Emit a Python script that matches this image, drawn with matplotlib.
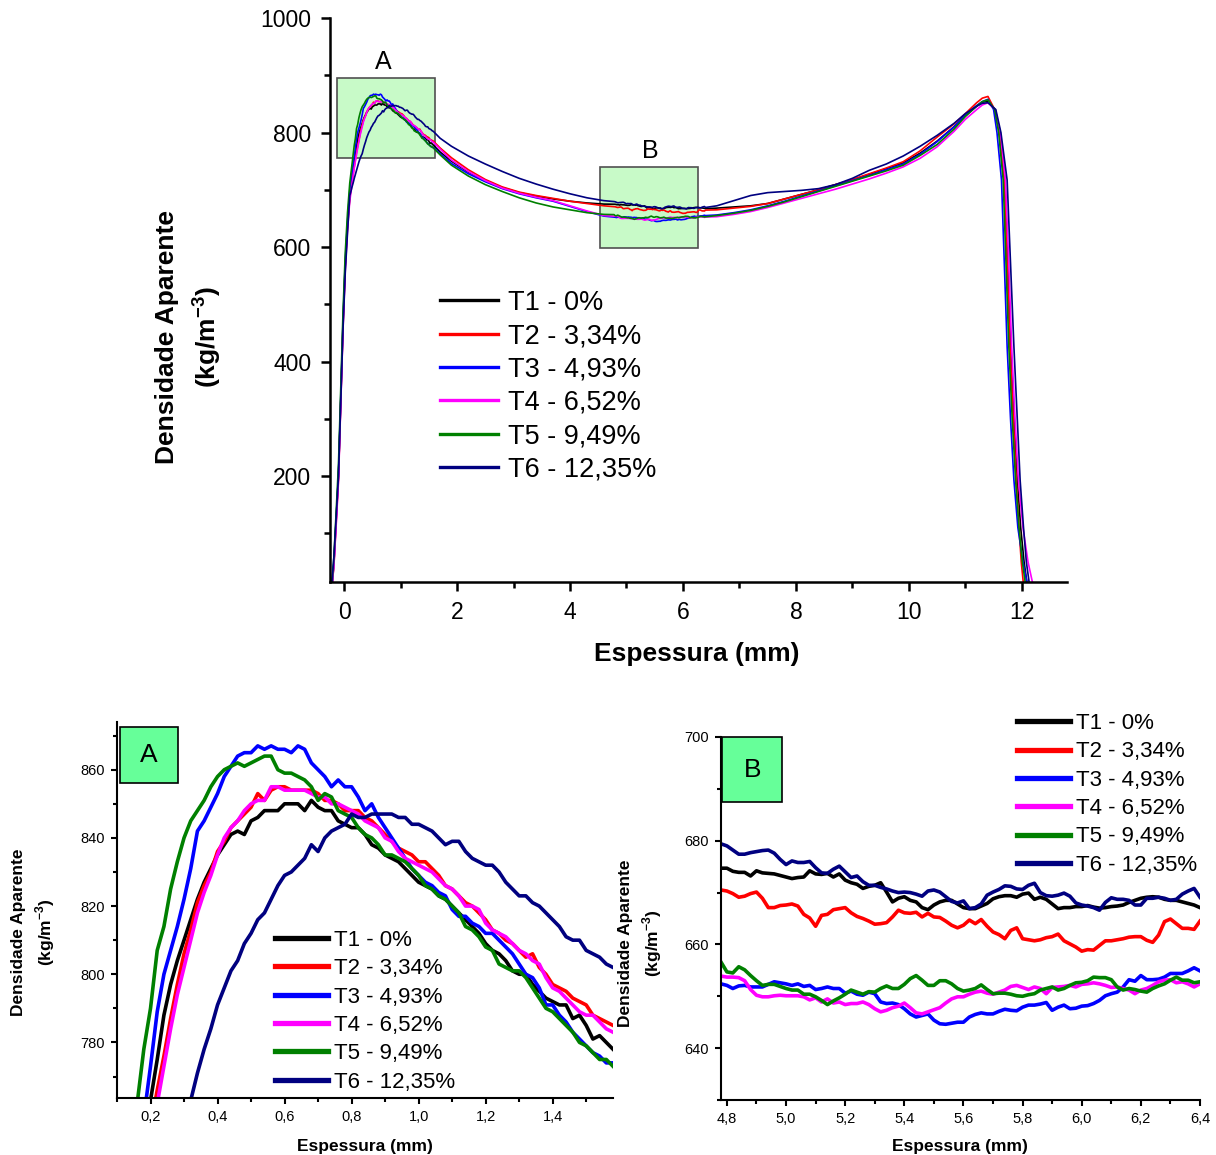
import matplotlib
matplotlib.use("Agg")
import matplotlib.pyplot as plt
from matplotlib.patches import Rectangle
from matplotlib.ticker import MultipleLocator, FuncFormatter
import numpy as np

plt.rcParams['font.family'] = ['Liberation Sans', 'DejaVu Sans']
plt.rcParams['mathtext.fontset'] = 'custom'
plt.rcParams['mathtext.rm'] = 'Liberation Sans'
plt.rcParams['mathtext.bf'] = 'Liberation Sans:bold'

labels = ['T1 - 0%', 'T2 - 3,34%', 'T3 - 4,93%', 'T4 - 6,52%', 'T5 - 9,49%', 'T6 - 12,35%']
colors = ['#000000', '#ff0000', '#0000ff', '#ff00ff', '#008000', '#000080']

# ---- detail A: 0.10 .. 1.58 mm, step 0.02
xa = np.round(np.arange(0.10, 1.5801, 0.02), 2)
a_t1 = [690, 705, 720, 735, 750, 763, 775, 788, 797, 804, 810, 816, 822, 827, 831, 835, 838, 841,
        842, 841, 845, 846, 848, 848, 848, 850, 850, 850, 848, 851, 849, 848, 848, 845, 844, 843,
        843, 841, 838, 837, 835, 834, 833, 831, 829, 827, 826, 825, 823, 822, 820, 818, 816, 814,
        812, 809, 807, 806, 804, 801, 800, 800, 797, 795, 793, 792, 791, 791, 787, 788, 785, 781,
        782, 780, 778]
a_t2 = [685, 700, 715, 728, 742, 755, 766, 776, 787, 797, 806, 813, 821, 826, 830, 836, 839, 843,
        845, 847, 849, 853, 851, 854, 855, 855, 854, 854, 854, 854, 853, 851, 851, 850, 848, 848,
        848, 846, 845, 843, 841, 839, 837, 836, 835, 833, 833, 831, 829, 826, 825, 823, 821, 820,
        818, 816, 813, 812, 810, 809, 807, 805, 806, 802, 800, 797, 796, 795, 793, 792, 791, 788,
        787, 786, 785]
a_t3 = [700, 715, 730, 745, 758, 773, 789, 800, 807, 814, 822, 831, 842, 845, 849, 853, 858, 861,
        864, 865, 865, 867, 866, 867, 866, 866, 865, 867, 866, 862, 860, 858, 855, 857, 855, 855,
        852, 848, 850, 846, 843, 840, 837, 834, 831, 829, 827, 826, 824, 823, 819, 817, 817, 815,
        814, 812, 812, 810, 808, 806, 803, 800, 799, 796, 791, 791, 788, 786, 783, 781, 779, 777,
        776, 774, 774]
a_t4 = [680, 695, 710, 724, 738, 750, 762, 773, 784, 794, 802, 810, 818, 824, 829, 835, 840, 843,
        845, 848, 850, 851, 851, 855, 855, 854, 854, 854, 854, 853, 852, 852, 850, 850, 849, 848,
        847, 845, 844, 843, 840, 839, 836, 834, 833, 832, 831, 830, 828, 826, 825, 823, 820, 820,
        819, 815, 813, 812, 811, 809, 807, 806, 804, 803, 799, 796, 795, 793, 791, 789, 788, 788,
        786, 784, 783]
a_t5 = [712, 728, 745, 762, 778, 790, 807, 814, 825, 833, 840, 845, 848, 851, 855, 858, 860, 861,
        862, 861, 862, 863, 864, 864, 860, 859, 859, 858, 857, 855, 851, 853, 852, 848, 847, 846,
        843, 841, 840, 838, 835, 835, 834, 833, 831, 829, 826, 825, 823, 822, 820, 818, 814, 813,
        811, 808, 807, 803, 802, 801, 801, 799, 796, 793, 790, 789, 787, 785, 783, 780, 779, 777,
        775, 775, 773]
a_t6 = [690, 697, 705, 712, 720, 727, 734, 741, 748, 754, 759, 763, 771, 778, 784, 791, 796, 801,
        804, 809, 812, 816, 818, 822, 826, 829, 830, 832, 834, 838, 836, 840, 842, 843, 844, 847,
        846, 846, 847, 847, 847, 847, 846, 846, 844, 844, 843, 842, 840, 838, 839, 839, 836, 834,
        833, 832, 832, 830, 827, 825, 823, 823, 821, 820, 818, 816, 814, 811, 810, 810, 807, 806,
        805, 803, 802]

# ---- detail B: 4.78 .. 6.40 mm, step 0.02
xb = np.round(np.arange(4.78, 6.4001, 0.02), 2)
b_t1 = [674.7, 674.7, 674.1, 673.9, 673.9, 673.2, 674.2, 673.8, 673.7, 673.6, 673.3, 673.0, 672.7, 672.9,
        673.0, 674.2, 673.6, 673.5, 673.7, 673.0, 673.6, 672.4, 671.9, 671.6, 670.8, 671.2, 671.4, 671.9,
        670.1, 668.2, 668.9, 669.2, 668.5, 668.2, 667.1, 666.7, 667.6, 668.2, 668.5, 668.5, 667.8, 667.1,
        666.9, 666.9, 667.4, 667.9, 668.8, 669.2, 669.4, 669.4, 669.1, 669.7, 669.9, 668.7, 669.1, 668.7,
        667.8, 666.9, 667.1, 667.1, 667.3, 667.3, 667.5, 667.2, 667.0, 667.1, 667.3, 667.4, 667.6, 668.1,
        668.5, 668.9, 669.1, 669.2, 669.1, 668.7, 668.5, 668.5, 668.2, 667.9, 667.6, 667.1]
b_t2 = [670.5, 670.3, 669.8, 669.1, 669.3, 669.8, 670.1, 668.9, 667.1, 667.1, 667.5, 667.6, 667.8, 667.4,
        665.8, 665.1, 663.5, 665.6, 665.8, 666.7, 666.9, 667.1, 666.1, 665.4, 665.0, 664.5, 663.9, 664.0,
        664.2, 665.3, 666.6, 666.1, 666.0, 666.2, 665.3, 666.0, 665.3, 665.2, 664.5, 663.7, 663.2, 663.7,
        664.7, 664.0, 664.8, 663.5, 662.4, 661.9, 661.1, 662.7, 663.2, 661.1, 660.9, 660.7, 660.9, 661.3,
        661.5, 662.0, 660.7, 660.1, 659.5, 658.7, 659.0, 658.9, 659.8, 660.7, 660.7, 660.9, 661.1, 661.4,
        661.5, 661.5, 660.8, 660.4, 661.8, 664.4, 664.9, 664.0, 663.1, 663.1, 662.9, 664.5]
b_t3 = [652.4, 652.1, 651.5, 652.0, 652.1, 651.8, 651.8, 651.8, 652.3, 652.8, 652.6, 652.4, 652.1, 652.4,
        651.9, 652.1, 651.3, 651.5, 651.8, 651.5, 651.5, 650.6, 651.0, 650.4, 650.2, 650.8, 650.5, 648.9,
        648.6, 648.7, 648.4, 647.6, 646.6, 646.0, 646.3, 646.6, 645.4, 644.7, 644.6, 644.8, 645.0, 645.0,
        646.0, 646.5, 646.8, 646.6, 646.6, 647.1, 647.5, 647.3, 647.2, 647.9, 648.3, 648.3, 648.5, 648.8,
        647.3, 647.9, 648.3, 647.6, 647.7, 648.1, 648.2, 648.6, 649.2, 650.1, 650.5, 650.8, 651.8, 653.2,
        652.9, 654.0, 653.2, 653.2, 653.3, 653.7, 654.4, 654.4, 654.4, 654.9, 655.5, 654.9]
b_t4 = [653.9, 653.7, 653.7, 653.6, 653.0, 651.3, 650.2, 649.9, 649.9, 650.1, 650.2, 650.1, 650.1, 650.1,
        649.9, 649.3, 649.7, 648.9, 649.5, 648.7, 648.9, 648.4, 648.6, 648.6, 648.9, 648.4, 647.6, 647.0,
        647.3, 647.8, 648.1, 648.7, 647.8, 646.8, 646.6, 647.0, 647.4, 647.8, 648.7, 649.5, 649.9, 649.9,
        650.4, 650.8, 651.0, 650.6, 650.4, 650.8, 651.2, 651.9, 652.1, 651.7, 651.3, 651.8, 651.5, 650.5,
        651.7, 651.8, 651.9, 652.1, 651.8, 652.3, 652.4, 652.6, 652.4, 652.1, 651.7, 651.8, 651.5, 651.2,
        650.5, 651.2, 651.5, 652.1, 652.8, 653.1, 653.2, 652.6, 652.8, 652.4, 651.8, 652.4]
b_t5 = [656.6, 654.7, 654.5, 655.7, 655.1, 654.0, 653.0, 652.1, 652.3, 652.3, 651.9, 651.5, 651.2, 651.2,
        650.4, 650.4, 649.9, 649.2, 648.4, 649.1, 649.7, 650.4, 651.2, 650.8, 650.4, 650.9, 650.8, 651.5,
        652.0, 651.5, 651.5, 652.3, 653.4, 654.0, 653.1, 652.1, 652.1, 653.0, 653.0, 652.4, 651.5, 651.0,
        651.2, 651.5, 652.2, 651.3, 650.5, 650.6, 650.6, 650.4, 650.1, 650.0, 650.3, 650.5, 651.2, 651.5,
        651.8, 651.2, 651.5, 652.1, 652.6, 652.7, 653.0, 653.7, 653.6, 653.6, 653.2, 651.8, 651.2, 651.5,
        651.3, 651.0, 650.8, 651.5, 652.0, 652.4, 653.1, 653.7, 653.1, 653.1, 652.6, 652.8]
b_t6 = [679.4, 679.0, 678.2, 677.4, 677.4, 677.7, 677.9, 678.1, 678.2, 677.6, 676.4, 675.4, 676.1, 675.8,
        675.8, 676.0, 674.8, 673.8, 673.7, 674.5, 675.1, 674.0, 672.9, 673.2, 672.1, 671.4, 671.4, 671.0,
        670.7, 670.3, 670.0, 670.1, 670.0, 669.7, 669.3, 670.3, 670.5, 670.1, 669.2, 668.3, 668.0, 668.4,
        666.9, 667.1, 667.8, 669.5, 670.1, 670.6, 671.3, 671.2, 670.7, 670.6, 671.4, 671.8, 670.0, 669.4,
        669.3, 669.5, 669.9, 669.3, 668.0, 667.6, 667.4, 667.1, 666.6, 668.1, 669.0, 668.7, 668.7, 668.5,
        667.6, 667.6, 668.9, 668.9, 669.1, 668.9, 668.5, 668.7, 669.7, 670.3, 670.8, 669.1]

# ---- coarse points of the full profile outside A and B
x_left = [-0.22, -0.18, -0.14, -0.10, -0.06, -0.02, 0.02, 0.06]
l_t1 = [0, 50, 125, 200, 335, 465, 570, 640]
l_t2 = [0, 45, 120, 195, 330, 460, 565, 635]
l_t3 = [0, 50, 125, 205, 340, 470, 575, 645]
l_t4 = [0, 45, 115, 190, 325, 455, 560, 630]
l_t5 = [5, 60, 140, 220, 355, 485, 590, 660]
l_t6 = [10, 60, 130, 200, 330, 455, 555, 625]

x_mid = [1.7, 1.9, 2.2, 2.5, 2.8, 3.1, 3.4, 3.7, 4.0, 4.3, 4.6]
m_t1 = [766, 750, 731, 716, 704, 695, 689, 684, 680, 677, 675]
m_t2 = [773, 756, 735, 718, 705, 696, 690, 685, 680, 676, 672]
m_t3 = [763, 746, 728, 714, 702, 693, 686, 680, 671, 662, 654]
m_t4 = [771, 752, 732, 716, 703, 694, 687, 681, 672, 663, 655]
m_t5 = [761, 743, 724, 709, 697, 686, 677, 670, 665, 660, 657]
m_t6 = [790, 776, 759, 745, 732, 720, 710, 701, 693, 686, 681]

x_right = [6.6, 6.9, 7.2, 7.5, 7.8, 8.1, 8.4, 8.7, 9.0, 9.3, 9.6, 9.9, 10.2, 10.5, 10.8, 11.0, 11.2, 11.3, 11.4]
r_t1 = [668, 670, 672, 676, 684, 692, 700, 709, 717, 727, 737, 747, 764, 785, 810, 829, 846, 853, 855]
r_t2 = [665, 668, 671, 676, 684, 692, 700, 709, 718, 728, 738, 749, 768, 792, 815, 833, 852, 860, 863]
r_t3 = [656, 660, 665, 672, 680, 689, 698, 707, 716, 725, 735, 745, 762, 784, 810, 830, 847, 854, 858]
r_t4 = [653, 657, 662, 669, 677, 685, 693, 701, 710, 719, 729, 740, 755, 775, 802, 823, 840, 848, 852]
r_t5 = [655, 659, 664, 671, 679, 688, 697, 706, 715, 724, 733, 743, 760, 779, 806, 828, 846, 854, 857]
r_t6 = [672, 681, 690, 695, 697, 699, 702, 709, 720, 734, 745, 759, 776, 795, 816, 833, 846, 851, 852]

y_fall = [840, 800, 717, 570, 426, 300, 193, 110, 50, 0]
f_t1 = [11.53, 11.61, 11.70, 11.75, 11.80, 11.86, 11.92, 11.98, 12.04, 12.11]
f_t2 = [11.52, 11.60, 11.69, 11.74, 11.79, 11.85, 11.90, 11.95, 11.99, 12.04]
f_t3 = [11.50, 11.56, 11.64, 11.69, 11.74, 11.80, 11.86, 11.93, 12.02, 12.12]
f_t4 = [11.53, 11.62, 11.71, 11.77, 11.82, 11.88, 11.94, 12.02, 12.11, 12.22]
f_t5 = [11.52, 11.59, 11.67, 11.72, 11.77, 11.83, 11.89, 11.95, 12.01, 12.08]
f_t6 = [11.54, 11.63, 11.74, 11.80, 11.86, 11.92, 11.97, 12.03, 12.08, 12.15]

A = [a_t1, a_t2, a_t3, a_t4, a_t5, a_t6]
B = [b_t1, b_t2, b_t3, b_t4, b_t5, b_t6]
L = [l_t1, l_t2, l_t3, l_t4, l_t5, l_t6]
M = [m_t1, m_t2, m_t3, m_t4, m_t5, m_t6]
R = [r_t1, r_t2, r_t3, r_t4, r_t5, r_t6]
F = [f_t1, f_t2, f_t3, f_t4, f_t5, f_t6]


def comma(v, pos):
    return ('%.1f' % v).replace('.', ',')


def style(ax, lw, major, minor, size, pad):
    for s in ['top', 'right']:
        ax.spines[s].set_visible(False)
    for s in ['left', 'bottom']:
        ax.spines[s].set_linewidth(lw)
    ax.tick_params(which='major', direction='out', length=major, width=lw, labelsize=size, pad=pad)
    ax.tick_params(which='minor', direction='out', length=minor, width=lw)


fig = plt.figure(figsize=(12.16, 11.55), dpi=100)
W, H = 1216.0, 1155.0
ax = fig.add_axes([330 / W, 1 - 582 / H, 737 / W, 564 / H])
axa = fig.add_axes([117 / W, 1 - 1098 / H, 496 / W, 376 / H])
axb = fig.add_axes([721 / W, 1 - 1100 / H, 479 / W, 363 / H])

# ---------------- main profile
ax.add_patch(Rectangle((-0.124, 756), 1.736, 140, facecolor='#c8fac8', edgecolor='#505050', lw=1.2, zorder=1))
ax.add_patch(Rectangle((4.535, 599), 1.735, 141.5, facecolor='#c8fac8', edgecolor='#505050', lw=1.2, zorder=1))
ax.text(0.69, 923, 'A', fontsize=18, ha='center', va='center')
ax.text(5.42, 768, 'B', fontsize=18, ha='center', va='center')
for i in range(6):
    xs = list(x_left) + list(xa) + x_mid + list(xb) + x_right + F[i]
    ys = L[i] + A[i] + M[i] + B[i] + R[i] + y_fall
    ax.plot(xs, ys, color=colors[i], lw=1.2, label=labels[i], zorder=2)
ax.set_xlim(-0.25, 12.8)
ax.set_ylim(15, 1000)
ax.xaxis.set_major_locator(MultipleLocator(2))
ax.xaxis.set_minor_locator(MultipleLocator(1))
ax.set_yticks([200, 400, 600, 800, 1000])
ax.yaxis.set_minor_locator(MultipleLocator(100))
style(ax, 1.8, 6.5, 4, 16.5, 7)
leg = ax.legend(loc='upper left', bbox_to_anchor=(0.149, 0.518), frameon=False, fontsize=19.5,
                handlelength=2.15, handletextpad=0.35, labelspacing=0.27, borderpad=0, borderaxespad=0)
for h in leg.legend_handles:
    h.set_linewidth(2.4)
fig.text(697 / W, 1 - 654 / H, 'Espessura (mm)', fontsize=19, fontweight='bold', ha='center', va='center')
fig.text(189 / W, 1 - 337 / H, 'Densidade Aparente\n(kg/m$^{\\mathbf{-3}}$)', fontsize=19,
         fontweight='bold', ha='center', va='center', rotation=90, linespacing=1.45)

# ---------------- detail A
for i in range(6):
    axa.plot(xa, A[i], color=colors[i], lw=2.6, label=labels[i])
axa.set_xlim(0.1, 1.58)
axa.set_ylim(763.7, 874)
axa.xaxis.set_major_locator(MultipleLocator(0.2))
axa.xaxis.set_minor_locator(MultipleLocator(0.1))
axa.xaxis.set_major_formatter(FuncFormatter(comma))
axa.yaxis.set_major_locator(MultipleLocator(20))
axa.yaxis.set_minor_locator(MultipleLocator(10))
style(axa, 1.5, 4.5, 3, 10.5, 4)
axa.add_patch(Rectangle((0.006, 0.838), 0.117, 0.149, transform=axa.transAxes,
                        facecolor='#66ff99', edgecolor='black', lw=1.2, zorder=3))
axa.text(0.0645, 0.912, 'A', transform=axa.transAxes, fontsize=19, ha='center', va='center', zorder=4)
leg = axa.legend(loc='upper left', bbox_to_anchor=(0.318, 0.447), frameon=False, fontsize=16,
                 handlelength=2.4, handletextpad=0.25, labelspacing=0.33, borderpad=0, borderaxespad=0)
for h in leg.legend_handles:
    h.set_linewidth(3.8)
fig.text(365 / W, 1 - 1146 / H, 'Espessura (mm)', fontsize=12.5, fontweight='bold', ha='center', va='center')
fig.text(34 / W, 1 - 932 / H, 'Densidade Aparente\n(kg/m$^{\\mathbf{-3}}$)', fontsize=12.5,
         fontweight='bold', ha='center', va='center', rotation=90, linespacing=1.4)

# ---------------- detail B
for i in range(6):
    axb.plot(xb, B[i], color=colors[i], lw=2.6, label=labels[i])
axb.set_xlim(4.78, 6.4)
axb.set_ylim(630, 700)
axb.xaxis.set_major_locator(MultipleLocator(0.2))
axb.xaxis.set_minor_locator(MultipleLocator(0.1))
axb.xaxis.set_major_formatter(FuncFormatter(comma))
axb.yaxis.set_major_locator(MultipleLocator(20))
axb.yaxis.set_minor_locator(MultipleLocator(10))
style(axb, 1.5, 4.5, 3, 10.5, 4)
axb.add_patch(Rectangle((0.002, 0.821), 0.125, 0.179, transform=axb.transAxes,
                        facecolor='#66ff99', edgecolor='black', lw=1.2, zorder=3, clip_on=False))
axb.text(0.066, 0.91, 'B', transform=axb.transAxes, fontsize=19, ha='center', va='center', zorder=4)
leg = axb.legend(loc='upper left', bbox_to_anchor=(0.618, 1.066), frameon=False, fontsize=16,
                 handlelength=2.4, handletextpad=0.25, labelspacing=0.33, borderpad=0, borderaxespad=0)
for h in leg.legend_handles:
    h.set_linewidth(3.8)
fig.text(960 / W, 1 - 1146 / H, 'Espessura (mm)', fontsize=12.5, fontweight='bold', ha='center', va='center')
fig.text(641 / W, 1 - 943 / H, 'Densidade Aparente\n(kg/m$^{\\mathbf{-3}}$)', fontsize=12.5,
         fontweight='bold', ha='center', va='center', rotation=90, linespacing=1.4)

fig.savefig('out.png', dpi=100)
